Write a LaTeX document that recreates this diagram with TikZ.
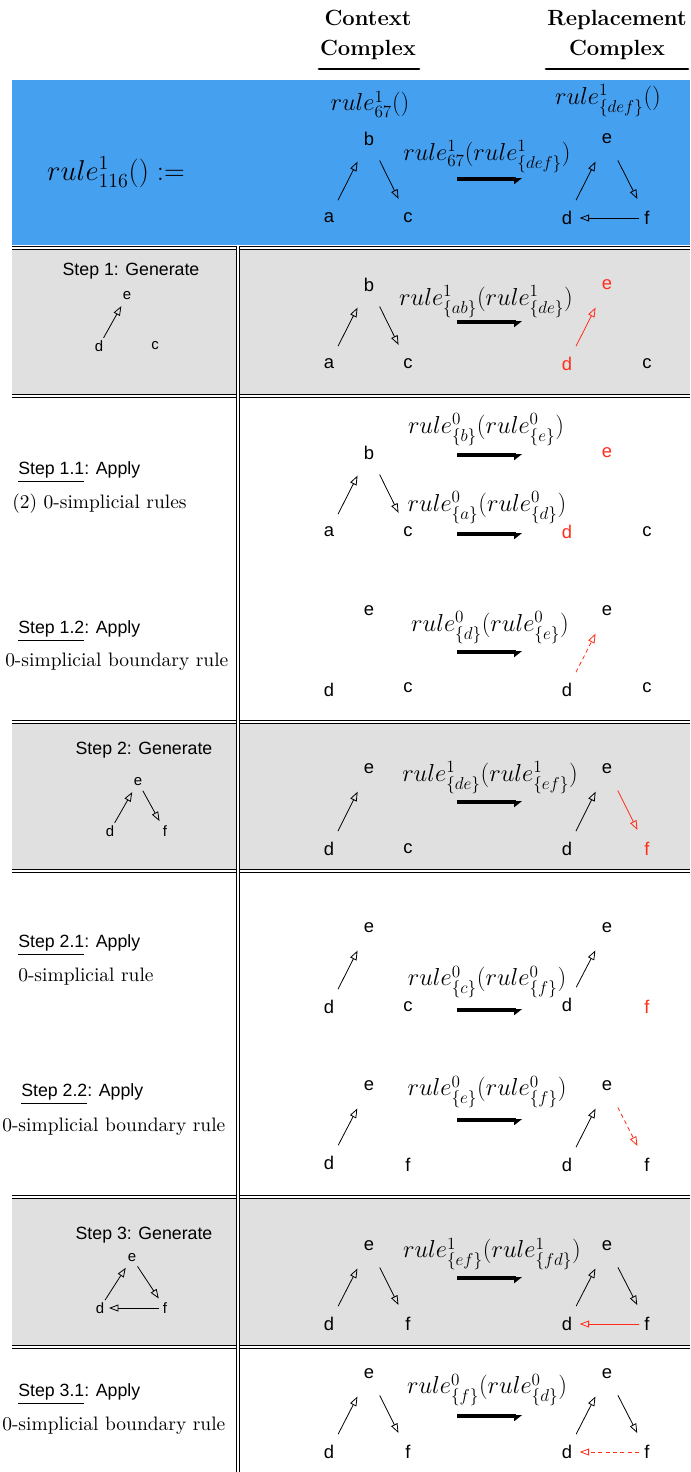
\RequirePackage{fix-cm}
\documentclass[tikz,border=0pt]{standalone}
\usepackage{amsmath,amssymb}
\usepackage{fontspec}
\usepackage{xcolor}
\usepackage{tikz}
\usetikzlibrary{arrows.meta}
\newfontfamily\vtxfont{Liberation Sans}
\newfontfamily\notefont{lmroman10-regular}[Extension=.otf]
\definecolor{bandblue}{RGB}{70,160,240}
\definecolor{rowgray}{RGB}{224,224,224}
\definecolor{addred}{RGB}{255,45,25}
\tikzset{
	vtx/.style={font=\vtxfont\fontsize{13.8}{16}\selectfont, inner sep=1pt},
	svtx/.style={font=\vtxfont\fontsize{11.2}{13}\selectfont, inner sep=1pt},
	edgetip/.style={-{Triangle[open, length=7pt, width=5.2pt]}, line width=0.6pt},
	upedge/.style={edgetip, shorten <=15pt, shorten >=19pt},
	dnedge/.style={edgetip, shorten <=18pt, shorten >=16pt},
	hedge/.style={edgetip, shorten <=6pt, shorten >=9.5pt},
	supedge/.style={edgetip, shorten <=7pt, shorten >=8.7pt},
	sdnedge/.style={edgetip, shorten <=7.5pt, shorten >=8.5pt},
	shedge/.style={edgetip, shorten <=4.5pt, shorten >=6.75pt},
	rulelabel/.style={font=\fontsize{18.4}{21}\selectfont},
	bigarrow/.style={line width=2.6pt, -{Triangle[length=5pt, width=7.5pt, right]}},
	steplabel/.style={font=\vtxfont\fontsize{13.3}{16}\selectfont, anchor=west, inner sep=0pt},
	stepnote/.style={font=\notefont\fontsize{14.6}{18}\selectfont, anchor=west, inner sep=0pt},
	rowline/.style={double=white, double distance=1.6pt, line width=0.6pt},
	added/.style={color=addred},
	bdash/.style={dash pattern=on 3pt off 2.5pt}
}

\begin{document}
\begin{tikzpicture}[x=0.75pt, y=-0.75pt]
	\useasboundingbox (0,0) rectangle (690,1472);
	
	%% -- Backgrounds
	\fill[bandblue] (12,80) rectangle (690,245);
	\fill[rowgray] (12,249) rectangle (690,395);
	\fill[rowgray] (12,722) rectangle (690,871);
	\fill[rowgray] (12,1197) rectangle (690,1347);
	
	%% -- Table rules
	\draw[rowline] (12,248) -- (690,248);
	\draw[rowline] (12,396) -- (690,396);
	\draw[rowline] (12,722) -- (690,722);
	\draw[rowline] (12,871) -- (690,871);
	\draw[rowline] (12,1197) -- (690,1197);
	\draw[rowline] (12,1347) -- (690,1347);
	\draw[rowline] (237.7,246) -- (237.7,1472);
	
	%% -- Column headers
	\node[font=\bfseries\fontsize{16.5}{22.5}\selectfont, align=center] (hctx) at (368,35) {Context\\Complex};
	\node[font=\bfseries\fontsize{16.5}{22.5}\selectfont, align=center] (hrep) at (617,35) {Replacement\\Complex};
	\draw[line width=2.2pt, line cap=round] (319,69) -- (419,69);
	\draw[line width=2.2pt, line cap=round] (546,69) -- (688,69);
	
	%% -- Definition (blue band)
	\node[font=\fontsize{21.5}{25}\selectfont] (defn) at (116,172) {$rule^{1}_{116}() :=$};
	\node[rulelabel] (l0c) at (370,104) {$rule^{1}_{67}()$};
	\node[rulelabel] (l0r) at (608,101) {$rule^{1}_{\{def\}}()$};
	\node[vtx] (c0b) at (369,139) {b};
	\node[vtx] (c0a) at (329,218) {a};
	\node[vtx] (c0c) at (408,218) {c};
	\node[rulelabel] (l0) at (487,157) {$rule^{1}_{67}(rule^{1}_{\{def\}})$};
	\coordinate (m0s) at (457,179);
	\coordinate (m0t) at (522,179);
	\node[vtx] (r0e) at (607,139) {e};
	\node[vtx] (r0d) at (567,218) {d};
	\node[vtx] (r0f) at (647,218) {f};
	\draw[upedge] (c0a.center) -- (c0b.center);
	\draw[dnedge] (c0b.center) -- (c0c.center);
	\draw[bigarrow] (m0s) -- (m0t);
	\draw[upedge] (r0d.center) -- (r0e.center);
	\draw[dnedge] (r0e.center) -- (r0f.center);
	\draw[hedge] (r0f.center) -- (r0d.center);
	
	%% -- Step 1: Generate
	\node[steplabel, anchor=center] (s1) at (131,271) {Step 1: Generate};
	\node[svtx] (g1e) at (127,296) {e};
	\node[svtx] (g1d) at (99,346) {d};
	\node[svtx] (g1c) at (155,346) {c};
	\draw[supedge] (g1d.center) -- (g1e.center);
	\node[vtx] (c1b) at (369,285) {b};
	\node[vtx] (c1a) at (329,364) {a};
	\node[vtx] (c1c) at (408,364) {c};
	\node[rulelabel] (l1) at (486,302) {$rule^{1}_{\{ab\}}(rule^{1}_{\{de\}})$};
	\coordinate (m1s) at (457,322);
	\coordinate (m1t) at (522,322);
	\node[vtx, added] (r1e) at (607,285) {e};
	\node[vtx, added] (r1d) at (567,364) {d};
	\node[vtx] (r1c) at (647,364) {c};
	\draw[upedge] (c1a.center) -- (c1b.center);
	\draw[dnedge] (c1b.center) -- (c1c.center);
	\draw[bigarrow] (m1s) -- (m1t);
	\draw[upedge, added] (r1d.center) -- (r1e.center);
	
	%% -- Step 1.1: 0-simplicial rules
	\node[steplabel] (s11) at (18,472) {\underline{Step 1.1}: Apply};
	\node[stepnote] (n11) at (12,504) {(2) 0-simplicial rules};
	\node[vtx] (c11b) at (369,453) {b};
	\node[vtx] (c11a) at (329,532) {a};
	\node[vtx] (c11c) at (408,532) {c};
	\node[rulelabel] (l11a) at (486,430) {$rule^{0}_{\{b\}}(rule^{0}_{\{e\}})$};
	\coordinate (m11as) at (457,455);
	\coordinate (m11at) at (522,455);
	\node[rulelabel] (l11b) at (487,508) {$rule^{0}_{\{a\}}(rule^{0}_{\{d\}})$};
	\coordinate (m11bs) at (457,534);
	\coordinate (m11bt) at (522,534);
	\node[vtx, added] (r11e) at (607,453) {e};
	\node[vtx, added] (r11d) at (567,532) {d};
	\node[vtx] (r11c) at (647,532) {c};
	\draw[upedge] (c11a.center) -- (c11b.center);
	\draw[dnedge] (c11b.center) -- (c11c.center);
	\draw[bigarrow] (m11as) -- (m11at);
	\draw[bigarrow] (m11bs) -- (m11bt);
	
	%% -- Step 1.2: boundary rule
	\node[steplabel] (s12) at (18,631) {\underline{Step 1.2}: Apply};
	\node[stepnote] (n12) at (5,662) {0-simplicial boundary rule};
	\node[vtx] (c12e) at (369,611) {e};
	\node[vtx] (c12d) at (329,690) {d};
	\node[vtx] (c12c) at (408,688) {c};
	\node[rulelabel] (l12) at (490,628) {$rule^{0}_{\{d\}}(rule^{0}_{\{e\}})$};
	\coordinate (m12s) at (457,652);
	\coordinate (m12t) at (522,652);
	\node[vtx] (r12e) at (607,611) {e};
	\node[vtx] (r12d) at (567,690) {d};
	\node[vtx] (r12c) at (647,688) {c};
	\draw[bigarrow] (m12s) -- (m12t);
	\draw[upedge, added, bdash] (r12d.center) -- (r12e.center);
	
	%% -- Step 2: Generate
	\node[steplabel, anchor=center] (s2) at (144,750) {Step 2: Generate};
	\node[svtx] (g2e) at (138,782) {e};
	\node[svtx] (g2d) at (110,831) {d};
	\node[svtx] (g2f) at (165,831) {f};
	\draw[supedge] (g2d.center) -- (g2e.center);
	\draw[sdnedge] (g2e.center) -- (g2f.center);
	\node[vtx] (c2e) at (369,769) {e};
	\node[vtx] (c2d) at (329,849) {d};
	\node[vtx] (c2c) at (408,849) {c};
	\node[rulelabel] (l2) at (490,778) {$rule^{1}_{\{de\}}(rule^{1}_{\{ef\}})$};
	\coordinate (m2s) at (457,802);
	\coordinate (m2t) at (522,802);
	\node[vtx] (r2e) at (607,769) {e};
	\node[vtx] (r2d) at (567,849) {d};
	\node[vtx, added] (r2f) at (647,849) {f};
	\draw[upedge] (c2d.center) -- (c2e.center);
	\draw[bigarrow] (m2s) -- (m2t);
	\draw[upedge] (r2d.center) -- (r2e.center);
	\draw[dnedge, added] (r2e.center) -- (r2f.center);
	
	%% -- Step 2.1: 0-simplicial rule
	\node[steplabel] (s21) at (18,945) {\underline{Step 2.1}: Apply};
	\node[stepnote] (n21) at (18,977) {0-simplicial rule};
	\node[vtx] (c21e) at (369,928) {e};
	\node[vtx] (c21d) at (329,1007) {d};
	\node[vtx] (c21c) at (408,1007) {c};
	\node[rulelabel] (l21) at (487,982) {$rule^{0}_{\{c\}}(rule^{0}_{\{f\}})$};
	\coordinate (m21s) at (457,1010);
	\coordinate (m21t) at (522,1010);
	\node[vtx] (r21e) at (607,928) {e};
	\node[vtx] (r21d) at (567,1005) {d};
	\node[vtx, added] (r21f) at (647,1007) {f};
	\draw[upedge] (c21d.center) -- (c21e.center);
	\draw[bigarrow] (m21s) -- (m21t);
	\draw[upedge] (r21d.center) -- (r21e.center);
	
	%% -- Step 2.2: boundary rule
	\node[steplabel] (s22) at (21,1094) {\underline{Step 2.2}: Apply};
	\node[stepnote] (n22) at (2,1127) {0-simplicial boundary rule};
	\node[vtx] (c22e) at (369,1086) {e};
	\node[vtx] (c22d) at (329,1163) {d};
	\node[vtx] (c22f) at (408,1165) {f};
	\node[rulelabel] (l22) at (487,1092) {$rule^{0}_{\{e\}}(rule^{0}_{\{f\}})$};
	\coordinate (m22s) at (457,1120);
	\coordinate (m22t) at (522,1120);
	\node[vtx] (r22e) at (607,1086) {e};
	\node[vtx] (r22d) at (567,1165) {d};
	\node[vtx] (r22f) at (647,1165) {f};
	\draw[upedge] (c22d.center) -- (c22e.center);
	\draw[bigarrow] (m22s) -- (m22t);
	\draw[upedge] (r22d.center) -- (r22e.center);
	\draw[dnedge, added, bdash] (r22e.center) -- (r22f.center);
	
	%% -- Step 3: Generate
	\node[steplabel, anchor=center] (s3) at (144,1235) {Step 3: Generate};
	\node[svtx] (g3e) at (132,1258) {e};
	\node[svtx] (g3d) at (100,1308) {d};
	\node[svtx] (g3f) at (165,1308) {f};
	\draw[supedge] (g3d.center) -- (g3e.center);
	\draw[sdnedge] (g3e.center) -- (g3f.center);
	\draw[shedge] (g3f.center) -- (g3d.center);
	\node[vtx] (c3e) at (369,1246) {e};
	\node[vtx] (c3d) at (329,1324) {d};
	\node[vtx] (c3f) at (408,1324) {f};
	\node[rulelabel] (l3) at (492,1254) {$rule^{1}_{\{ef\}}(rule^{1}_{\{fd\}})$};
	\coordinate (m3s) at (457,1278);
	\coordinate (m3t) at (522,1278);
	\node[vtx] (r3e) at (607,1246) {e};
	\node[vtx] (r3d) at (567,1324) {d};
	\node[vtx] (r3f) at (647,1324) {f};
	\draw[upedge] (c3d.center) -- (c3e.center);
	\draw[dnedge] (c3e.center) -- (c3f.center);
	\draw[bigarrow] (m3s) -- (m3t);
	\draw[upedge] (r3d.center) -- (r3e.center);
	\draw[dnedge] (r3e.center) -- (r3f.center);
	\draw[hedge, added] (r3f.center) -- (r3d.center);
	
	%% -- Step 3.1: boundary rule
	\node[steplabel] (s31) at (18,1394) {\underline{Step 3.1}: Apply};
	\node[stepnote] (n31) at (2,1426) {0-simplicial boundary rule};
	\node[vtx] (c31e) at (369,1374) {e};
	\node[vtx] (c31d) at (329,1452) {d};
	\node[vtx] (c31f) at (408,1452) {f};
	\node[rulelabel] (l31) at (487,1390) {$rule^{0}_{\{f\}}(rule^{0}_{\{d\}})$};
	\coordinate (m31s) at (457,1416);
	\coordinate (m31t) at (522,1416);
	\node[vtx] (r31e) at (607,1374) {e};
	\node[vtx] (r31d) at (567,1452) {d};
	\node[vtx] (r31f) at (647,1452) {f};
	\draw[upedge] (c31d.center) -- (c31e.center);
	\draw[dnedge] (c31e.center) -- (c31f.center);
	\draw[bigarrow] (m31s) -- (m31t);
	\draw[upedge] (r31d.center) -- (r31e.center);
	\draw[dnedge] (r31e.center) -- (r31f.center);
	\draw[hedge, added, bdash] (r31f.center) -- (r31d.center);
	
\end{tikzpicture}
\end{document}
